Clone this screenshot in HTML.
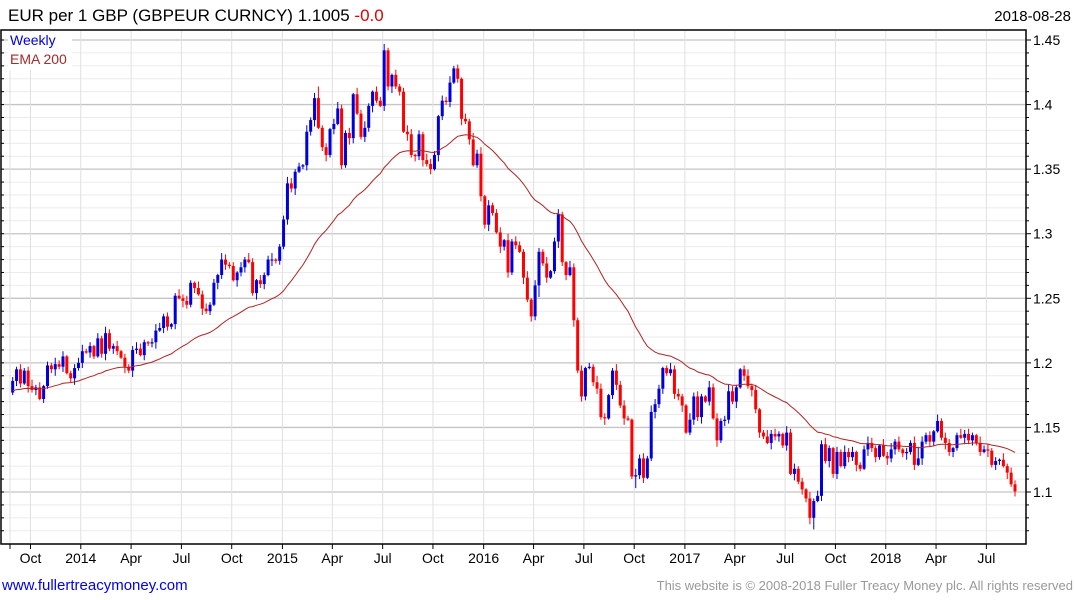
<!DOCTYPE html>
<html><head><meta charset="utf-8"><style>
body{margin:0;background:#fff;width:1075px;height:600px;overflow:hidden;font-family:"Liberation Sans","DejaVu Sans",sans-serif}
svg{display:block}
</style></head><body>
<svg id="chart" width="1075" height="600" xmlns="http://www.w3.org/2000/svg">
<g id="grid"></g>
<g id="bars"></g>
<path id="ema" fill="none" stroke="#b22222" stroke-width="1"/>
<rect x="1" y="30" width="1025" height="514" fill="none" stroke="#000" stroke-width="1.5"/>
<g id="axes"></g>
<text x="8" y="21" font-size="17" fill="#000">EUR per 1 GBP (GBPEUR CURNCY) 1.1005 <tspan fill="#e00000">-0.0</tspan></text>
<text x="1071" y="21" font-size="15" fill="#000" text-anchor="end">2018-08-28</text>
<rect x="8" y="32" width="64" height="38" fill="#fff"/>
<text x="10" y="45" font-size="14" fill="#0000dd">Weekly</text>
<text x="10" y="64" font-size="14" fill="#a52a2a">EMA 200</text>
<text x="2" y="590" font-size="15" fill="#0000ee">www.fullertreacymoney.com</text>
<text x="1073" y="590" font-size="13" fill="#999" text-anchor="end">This website is © 2008-2018 Fuller Treacy Money plc. All rights reserved</text>
</svg>
<script>
const closes = [
1.186,1.195,1.184,1.194,1.182,1.179,1.181,1.172,1.182,1.198,1.195,1.199,1.197,1.205,1.192,1.188,1.196,1.2,1.209,1.208,1.213,1.205,1.219,1.207,1.223,1.211,1.213,1.209,1.204,1.197,1.194,1.21,1.211,1.206,1.216,1.215,1.216,1.225,1.227,1.236,1.228,1.23,1.252,1.25,1.248,1.245,1.262,1.258,1.253,1.242,1.24,1.245,1.262,1.268,1.28,1.276,1.275,1.264,1.27,1.274,1.28,1.278,1.254,1.264,1.261,1.268,1.28,1.28,
1.279,1.29,1.311,1.339,1.335,1.348,1.352,1.353,1.379,1.388,1.405,1.382,1.367,1.361,1.381,1.385,1.397,1.353,1.378,1.374,1.408,1.393,1.375,1.382,1.399,1.41,1.403,1.399,1.442,1.414,1.423,1.414,1.41,1.379,1.377,1.361,1.36,1.377,1.357,1.354,1.35,1.361,1.391,1.403,1.402,1.417,1.428,1.42,1.389,1.387,1.373,
1.353,1.362,1.329,1.307,1.322,1.316,1.301,1.29,1.295,1.27,1.294,1.291,1.286,1.266,1.249,1.236,1.26,1.286,1.277,1.266,1.271,1.294,1.315,1.278,1.268,1.274,1.233,1.194,1.174,1.196,1.197,1.185,1.18,1.158,1.157,1.175,1.194,1.183,1.167,1.157,1.156,1.112,1.113,1.126,1.111,1.126,1.162,1.168,1.18,1.196,
1.192,1.195,1.176,1.174,1.167,1.146,1.156,1.174,1.158,1.174,1.17,1.181,1.157,1.14,1.155,1.156,1.178,1.17,1.181,1.195,1.19,1.182,1.179,1.164,1.146,1.143,1.138,1.145,1.143,1.145,1.136,1.146,1.114,1.118,1.108,1.102,1.095,1.08,1.093,1.097,1.137,1.124,1.134,1.114,
1.131,1.12,1.131,1.127,1.131,1.121,1.118,1.133,1.138,1.134,1.127,1.136,1.128,1.126,1.133,1.139,1.133,1.13,1.131,1.138,1.121,1.126,1.139,1.144,1.139,1.147,1.155,1.142,1.138,1.131,1.134,1.144,1.142,1.145,1.14,1.144,1.138,1.131,1.133,1.132,1.121,1.124,1.125,1.12,1.115,1.106,1.1005
];
const firstOpen = 1.177;
const upWick = "3242352413253412345231425324132354213542312534215342315423142531423512354231524923145324153521435214235413254314352314253514234152432514325134215324132543125342153425431253421534215342354213524125342153423152435214253412354215352413259423152431253421534231524315243".split("").map(Number);
const downWick = "2431524132352413524142135243152531423514324153241523153421534125341523243512435135241325412435214352315243524153241352412435215342315243924125341524313425134251293412534224351243513152432514253421534241524359142534124352153421534235241524312534215342315243152431524".split("").map(Number);
const yTicks = [1.1,1.15,1.2,1.25,1.3,1.35,1.4,1.45];
const monthLabels = ["Oct","2014","Apr","Jul","Oct","2015","Apr","Jul","Oct","2016","Apr","Jul","Oct","2017","Apr","Jul","Oct","2018","Apr","Jul"];
const monthWeeks = [5.6,18.6,31.6,44.6,57.6,70.7,83.6,96.6,109.6,122.7,135.6,148.6,161.6,174.7,187.6,200.6,213.6,226.6,239.6,252.6];
const emaSeed = 1.178;

const NS="http://www.w3.org/2000/svg";
const N=closes.length;
const WICK=0.001;
function yS(v){return 492-(v-1.1)*1291.4;}
function xS(i){return 1015-(N-1-i)*3.87;}
function wx(w){return xS(w+(N-261));}
function mk(tag,attrs,parent){const e=document.createElementNS(NS,tag);for(const k in attrs)e.setAttribute(k,attrs[k]);parent.appendChild(e);return e;}
const grid=document.getElementById('grid'),bars=document.getElementById('bars'),axes=document.getElementById('axes');
for(let k=0;k<=45;k++){const v=1.07+k*0.01;const y=yS(v);if(y<31||y>543)continue;
 const major=Math.abs((v*100)%5)<0.01||Math.abs((v*100)%5-5)<0.01;
 const l=mk('line',{x1:2,x2:1025,y1:y,y2:y,stroke:major?'#c4c4c4':'#ebebeb','stroke-width':major?1.3:1},grid);
 
 
 const t=mk('line',{x1:1026,x2:major?1031:1029,y1:y,y2:y,stroke:'#000'},axes);
 
 
 const t2=mk('line',{x1:1,x2:4,y1:y,y2:y,stroke:'#000'},axes);
 
 
}
yTicks.forEach(v=>{const t=mk('text',{x:1033,y:yS(v)+5,'font-size':14,fill:'#000'},axes);t.textContent=String(v);
 
 });
const vg=mk('line',{x1:10,x2:10,y1:31,y2:543,stroke:'#e0e0e0'},grid);


const st=mk('line',{x1:10,x2:10,y1:544,y2:549,stroke:'#000'},axes);


monthWeeks.forEach((w,j)=>{const x=wx(w);
 const l=mk('line',{x1:x,x2:x,y1:31,y2:543,stroke:'#e0e0e0'},grid);
 
 
 const t=mk('line',{x1:x,x2:x,y1:544,y2:549,stroke:'#000'},axes);
 
 
 const tx=mk('text',{x:x,y:563,'font-size':14,fill:'#000','text-anchor':'middle'},axes);tx.textContent=monthLabels[j];
 
 
});
let prev=firstOpen;
for(let i=0;i<N;i++){const o=prev,c=closes[i];const up=c>=o;const col=up?'#0000dd':'#ff0000';
 const hi=Math.max(o,c)+upWick[i]*WICK, lo=Math.min(o,c)-downWick[i]*WICK;const x=xS(i);
 const g=mk('g',{},bars);
 
 
 mk('line',{x1:x,x2:x,y1:yS(hi),y2:yS(lo),stroke:col,'stroke-width':1},g);
 const yt=yS(Math.max(o,c)),yb=yS(Math.min(o,c));
 mk('rect',{x:x-1.5,y:yt,width:3,height:Math.max(1,yb-yt),fill:col},g);
 prev=c;}
let e=emaSeed,d='';const a=2/41;
for(let i=0;i<N;i++){e=e+a*(closes[i]-e);d+=(i?'L':'M')+xS(i).toFixed(1)+' '+yS(e).toFixed(1);}
document.getElementById('ema').setAttribute('d',d);
</script>
</body></html>
